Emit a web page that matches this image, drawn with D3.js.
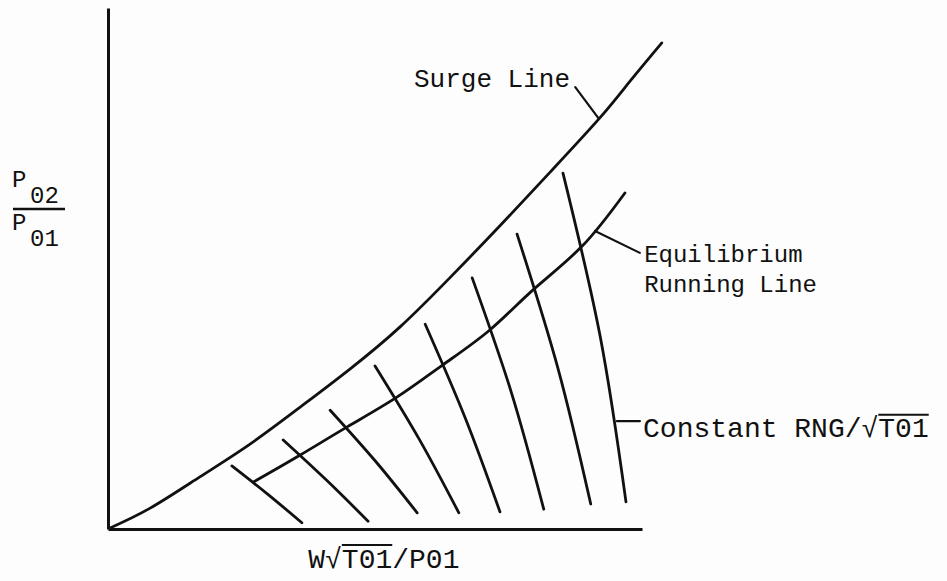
<!DOCTYPE html>
<html>
<head>
<meta charset="utf-8">
<script src="https://cdn.jsdelivr.net/npm/d3@7/dist/d3.min.js"></script>
<style>
	body { margin: 0; background: #fdfdfd; }
	svg { display: block; }
	text { font-family: 'Liberation Mono', 'Courier New', monospace; fill: #111; }
	.curve { fill: none; stroke: #111; stroke-width: 2.8; stroke-linecap: round; }
	.axis path { stroke: #111; stroke-width: 3; }
</style>
</head>
<body>
<svg id="chart" width="947" height="581"></svg>
<script>
// values, in arbitrary units (0..100 on both axes)
const surgeLine = [[0.4,0.2],[7.9,4.0],[17.2,10.0],[26.6,16.3],[36.0,23.4],[45.3,30.7],[54.7,38.8],
	[64.0,48.2],[73.4,58.2],[82.8,68.5],[92.1,78.9],[97.8,86.0],[103.7,93.3]];

const runningLine = [[27.2,9.0],[36.0,14.2],[44.8,19.6],[54.1,25.3],[62.7,31.5],[71.5,38.2],
	[79.6,45.9],[88.8,54.3],[96.8,64.5]];

// constant corrected speed lines: top, middle, bottom
const speedLines = [
	[[23.2,12.1],[30.0,6.6],[36.3,1.2]],
	[[32.8,17.1],[41.0,9.3],[48.7,1.5]],
	[[41.6,22.8],[50.1,13.0],[57.9,3.1]],
	[[50.0,31.3],[58.3,17.2],[65.7,3.1]],
	[[59.4,39.3],[66.9,21.3],[73.4,3.3]],
	[[68.2,48.2],[75.6,26.0],[81.6,3.8]],
	[[76.6,56.6],[84.3,30.7],[90.4,4.8]],
	[[85.2,68.3],[92.2,36.8],[97.0,5.2]]
];

const labelTexts = ['Surge Line', 'Equilibrium', 'Running Line', 'Constant RNG/\u221AT01'];
const xLabelText = 'W\u221AT01/P01';

class CompressorMap{
	constructor(el){
		this.svg = d3.select(el);
		this.margin = {top: 8, right: 305, bottom: 52, left: 108};
		this.width = +this.svg.attr('width') - this.margin.left - this.margin.right;
		this.height = +this.svg.attr('height') - this.margin.top - this.margin.bottom;
		this.g = this.svg.append('g').attr('transform', 'translate(' + this.margin.left + ',' + this.margin.top + ')');

		this.x = d3.scaleLinear().domain([0, 100]).range([0, this.width]);
		this.y = d3.scaleLinear().domain([0, 100]).range([this.height, 0]);
	}
	overline(textSel, from, to, lift){
		let node = textSel.node();
		let x1 = node.getStartPositionOfChar(from).x;
		let x2 = node.getEndPositionOfChar(to).x;
		let y0 = +textSel.attr('y') - lift;
		this.g.append('line')
			.attr('x1', x1).attr('x2', x2)
			.attr('y1', y0).attr('y2', y0)
			.style('stroke', '#111')
			.style('stroke-width', 2);
	}
	render(){
		let x = this.x, y = this.y;
		let line = d3.line().x(d => x(d[0])).y(d => y(d[1])).curve(d3.curveNatural);

		this.g.append('g')
			.attr('class', 'axis')
			.attr('transform', 'translate(0,' + this.height + ')')
			.call(d3.axisBottom(x).tickValues([]).tickSizeOuter(0));
		this.g.append('g')
			.attr('class', 'axis')
			.call(d3.axisLeft(y).tickValues([]).tickSizeOuter(0));

		this.g.append('path').attr('class', 'curve').attr('d', line(surgeLine));
		this.g.append('path').attr('class', 'curve').attr('d', line(runningLine));
		this.g.selectAll('.speed')
			.data(speedLines)
			.enter().append('path')
			.attr('class', 'curve speed')
			.attr('d', d => line(d));

		// leaders
		let leaders = [
			[[87.5,84.8],[91.8,78.9]],
			[[91.2,57.2],[99.6,53.0]],
			[[95.3,20.7],[99.6,20.7]]
		];
		let straight = d3.line().x(d => x(d[0])).y(d => y(d[1]));
		this.g.selectAll('.leader')
			.data(leaders)
			.enter().append('path')
			.attr('class', 'curve leader')
			.style('stroke-width', 2.2)
			.attr('d', d => straight(d));

		this.g.append('text')
			.attr('x', x(57.3)).attr('y', y(84.8))
			.style('font-size', '26px')
			.text(labelTexts[0]);
		this.g.append('text')
			.attr('x', x(100.4)).attr('y', y(51.2))
			.style('font-size', '24px')
			.text(labelTexts[1]);
		this.g.append('text')
			.attr('x', x(100.4)).attr('y', y(45.5))
			.style('font-size', '24px')
			.text(labelTexts[2]);
		let cst = this.g.append('text')
			.attr('x', x(100.2)).attr('y', y(17.7))
			.style('font-size', '28px')
			.text(labelTexts[3]);
		this.overline(cst, 14, 16, 22);

		let xl = this.g.append('text')
			.attr('x', x(37.5)).attr('y', this.height + 39)
			.style('font-size', '28px')
			.text(xLabelText);
		this.overline(xl, 2, 4, 23);

		// P02 / P01 on the left
		let yl = this.svg.append('g');
		yl.append('text').attr('x', 12).attr('y', 187).style('font-size', '24px').text('P');
		yl.append('text').attr('x', 30).attr('y', 203).style('font-size', '24px').text('02');
		yl.append('line')
			.attr('x1', 13).attr('x2', 65).attr('y1', 209).attr('y2', 209)
			.style('stroke', '#111').style('stroke-width', 2.5);
		yl.append('text').attr('x', 12).attr('y', 230).style('font-size', '24px').text('P');
		yl.append('text').attr('x', 30).attr('y', 246).style('font-size', '24px').text('01');
	}
}

let chart = new CompressorMap('#chart');
chart.render();
</script>
</body>
</html>
